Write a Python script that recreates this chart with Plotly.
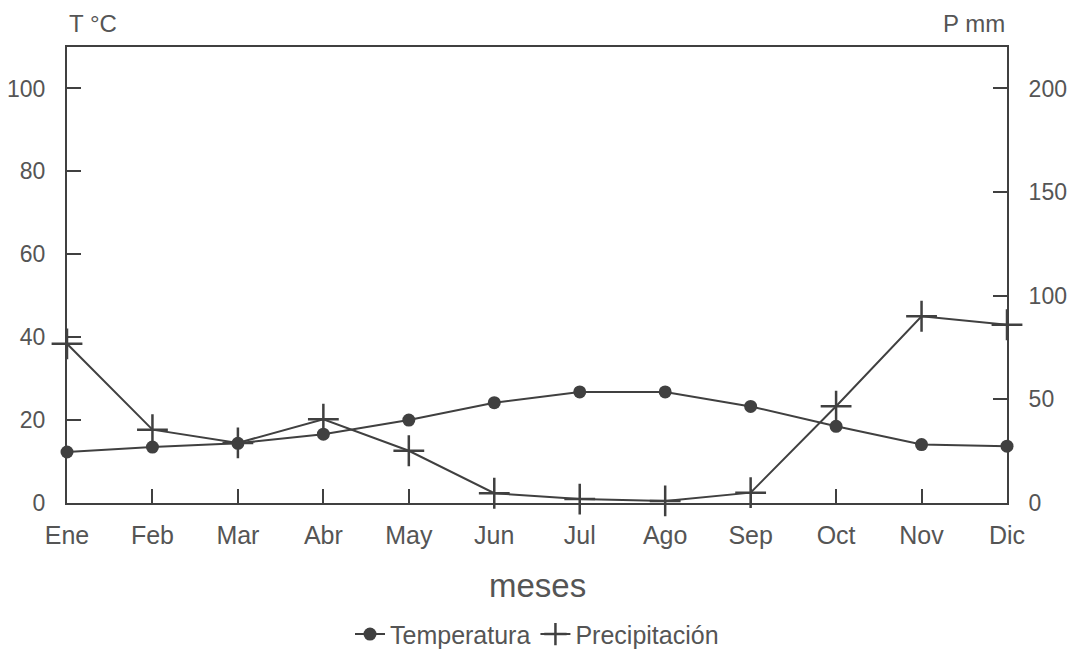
import plotly.graph_objects as go

meses = ["Ene", "Feb", "Mar", "Abr", "May", "Jun", "Jul", "Ago", "Sep", "Oct", "Nov", "Dic"]
temperatura = [12.3, 13.5, 14.4, 16.6, 20.0, 24.2, 26.8, 26.8, 23.3, 18.5, 14.1, 13.7]
precipitacion = [76.8, 35.4, 29.0, 40.4, 25.2, 4.7, 1.9, 1.0, 5.0, 46.7, 90.1, 86.0]
t_ticks = [0, 20, 40, 60, 80, 100]
p_ticks = [0, 50, 100, 150, 200]

ink = "#404040"
txt = "#555555"
font = "Liberation Sans, Arial, sans-serif"
idx = list(range(len(meses)))

fig = go.Figure()
fig.add_trace(go.Scatter(
    x=idx, y=temperatura, name="Temperatura", mode="lines+markers",
    line=dict(color=ink, width=2),
    marker=dict(symbol="circle", size=13, color=ink),
    yaxis="y", cliponaxis=False,
))
fig.add_trace(go.Scatter(
    x=idx, y=precipitacion, name="Precipitación", mode="lines+markers",
    line=dict(color=ink, width=2),
    marker=dict(symbol="cross-thin", size=22, line=dict(color=ink, width=2.5)),
    yaxis="y2", cliponaxis=False,
))

fig.update_layout(
    width=1069, height=646,
    margin=dict(l=59, r=70, t=39, b=151, autoexpand=False),
    paper_bgcolor="white", plot_bgcolor="white",
    font=dict(family=font, color=txt, size=23),
    showlegend=True,
    legend=dict(orientation="h", x=0.5, xanchor="center", y=-0.288, yanchor="middle",
                font=dict(size=25, color=txt), itemwidth=30, tracegroupgap=0),
    xaxis=dict(
        range=[0, 11], tickvals=idx, ticktext=meses, automargin=False,
        ticks="inside", ticklen=14, tickwidth=2, tickcolor=ink,
        showline=True, linecolor=ink, linewidth=2, mirror=True,
        showgrid=False, zeroline=False,
        tickfont=dict(size=25, color=txt), ticklabelstandoff=9,
    ),
    yaxis=dict(
        range=[0, 110], tickvals=t_ticks, automargin=False,
        ticks="inside", ticklen=14, tickwidth=2, tickcolor=ink,
        showline=True, linecolor=ink, linewidth=2,
        showgrid=False, zeroline=False,
        tickfont=dict(size=23, color=txt), ticklabelstandoff=15,
    ),
    yaxis2=dict(
        range=[0, 220], tickvals=p_ticks, overlaying="y", side="right", automargin=False,
        ticks="inside", ticklen=14, tickwidth=2, tickcolor=ink,
        showline=True, linecolor=ink, linewidth=2,
        showgrid=False, zeroline=False,
        tickfont=dict(size=23, color=txt), ticklabelstandoff=15,
    ),
    annotations=[
        dict(text="T °C", xref="paper", yref="paper", x=0, y=1, xanchor="left",
             yanchor="bottom", yshift=8, showarrow=False, font=dict(size=24, color=txt)),
        dict(text="P mm", xref="paper", yref="paper", x=1, y=1, xanchor="right",
             yanchor="bottom", yshift=8, showarrow=False, font=dict(size=24, color=txt)),
        dict(text="meses", xref="paper", yref="paper", x=0.5, y=-0.182, xanchor="center",
             yanchor="middle", showarrow=False, font=dict(size=33, color=txt)),
    ],
)

fig.write_html("out.html")
